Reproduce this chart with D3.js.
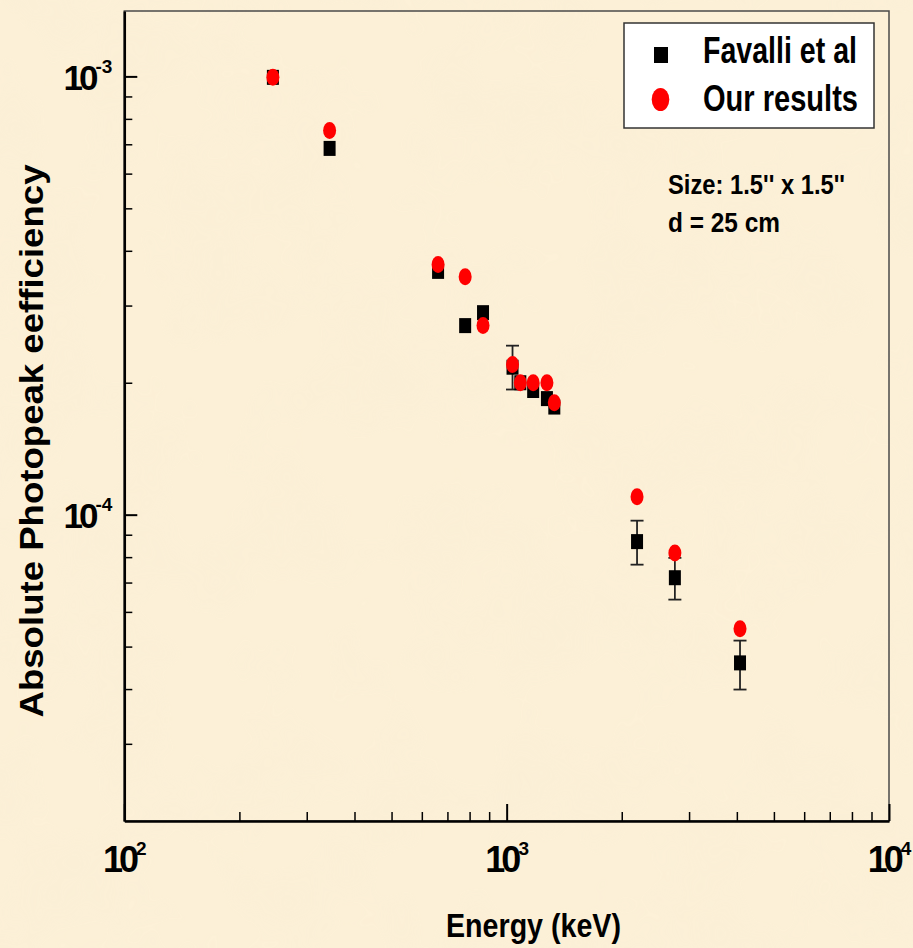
<!DOCTYPE html>
<html>
<head>
<meta charset="utf-8">
<script src="https://cdn.jsdelivr.net/npm/d3@7"></script>
<style>
  body { margin: 0; background: #fbeed3; }
  text { font-family: "Liberation Sans", Arial, sans-serif; font-weight: bold; fill: #000; }
</style>
</head>
<body>
<div id="chart"></div>
<script>
// data (energy in keV, efficiency absolute)
var energy   = [244.7, 344.3, 661.7, 778.9, 867.4, 1036, 1085.8, 1173.2, 1274.5, 1332.5, 2193, 2754, 4077];
var favalli  = [9.95e-4, 6.85e-4, 3.59e-4, 2.70e-4, 2.89e-4, 2.17e-4, 2.00e-4, 1.92e-4, 1.84e-4, 1.76e-4, 8.68e-5, 7.18e-5, 4.59e-5];
var favalliLo = [null, null, null, null, null, 1.93e-4, null, null, null, null, 7.69e-5, 6.40e-5, 3.99e-5];
var favalliHi = [null, null, null, null, null, 2.43e-4, null, null, null, null, 9.69e-5, 7.97e-5, 5.16e-5];
var ours     = [9.95e-4, 7.53e-4, 3.72e-4, 3.49e-4, 2.70e-4, 2.20e-4, 2.00e-4, 2.00e-4, 2.00e-4, 1.80e-4, 1.099e-4, 8.18e-5, 5.49e-5];

var xMajor = [100, 1000, 10000];
var xMinor = [200, 300, 400, 500, 600, 700, 800, 900, 2000, 3000, 4000, 5000, 6000, 7000, 8000, 9000];
var yMajor = [1e-4, 1e-3];
var yMinor = [3e-5, 4e-5, 5e-5, 6e-5, 7e-5, 8e-5, 9e-5, 2e-4, 3e-4, 4e-4, 5e-4, 6e-4, 7e-4, 8e-4, 9e-4];

var legendNames = ["Favalli et al", "Our results"];

// page & plot box
var W = 913, H = 948;
var plot = {left: 124.3, right: 889, top: 11, bottom: 821};

var svg = d3.select("#chart")
    .append("svg")
    .attr("width", W)
    .attr("height", H);

// parchment-like background
var defs = svg.append("defs");
var f = defs.append("filter").attr("id", "paper")
    .attr("x", 0).attr("y", 0).attr("width", "100%").attr("height", "100%");
f.append("feTurbulence").attr("type", "fractalNoise")
    .attr("baseFrequency", "0.012").attr("numOctaves", 3).attr("seed", 7);
f.append("feColorMatrix").attr("type", "matrix")
    .attr("values", "0 0 0 0 0.93  0 0 0 0 0.84  0 0 0 0 0.66  0 0 0 0.9 -0.38");
svg.append("rect").attr("width", W).attr("height", H).attr("fill", "#fcf0d7");
svg.append("rect").attr("width", W).attr("height", H).attr("filter", "url(#paper)").attr("opacity", 0.55);

var x = d3.scaleLog().domain([100, 10000]).range([plot.left, plot.right]);
var y = d3.scaleLog().domain([2e-5, 1.41e-3]).range([plot.bottom, plot.top]);

// thin frame (top / right)
svg.append("rect")
    .attr("x", plot.left).attr("y", plot.top)
    .attr("width", plot.right - plot.left).attr("height", plot.bottom - plot.top)
    .attr("fill", "none").attr("stroke", "#4a4a4a").attr("stroke-width", 1.5);

// bottom axis: minor ticks then major ticks, all pointing inward
svg.append("g")
    .attr("transform", "translate(0," + plot.bottom + ")")
    .call(d3.axisBottom(x).tickValues(xMinor).tickSize(-9).tickSizeOuter(0).tickFormat(""))
    .call(function(g) { g.select(".domain").remove(); })
    .selectAll("line").attr("stroke", "#000").attr("stroke-width", 1.5);

var xMaj = svg.append("g")
    .attr("transform", "translate(0," + plot.bottom + ")")
    .call(d3.axisBottom(x).tickValues(xMajor).tickSize(-17).tickSizeOuter(0).tickFormat(""));
xMaj.select(".domain").attr("stroke", "#000").attr("stroke-width", 2.5);
xMaj.selectAll("line").attr("stroke", "#000").attr("stroke-width", 2);
xMaj.selectAll(".tick text").remove();
xMaj.selectAll(".tick").append("text")
    .attr("y", 51)
    .attr("text-anchor", "middle")
    .style("font-size", "36px")
    .each(function(d) {
        var t = d3.select(this);
        t.append("tspan").text("10").style("letter-spacing", "-4px");
        t.append("tspan").text(Math.round(Math.log10(d)))
            .attr("dy", -17).attr("dx", 1).style("font-size", "19px");
    });

// left axis
svg.append("g")
    .attr("transform", "translate(" + plot.left + ",0)")
    .call(d3.axisLeft(y).tickValues(yMinor).tickSize(-8).tickSizeOuter(0).tickFormat(""))
    .call(function(g) { g.select(".domain").remove(); })
    .selectAll("line").attr("stroke", "#000").attr("stroke-width", 1.5);

var yMaj = svg.append("g")
    .attr("transform", "translate(" + plot.left + ",0)")
    .call(d3.axisLeft(y).tickValues(yMajor).tickSize(-13).tickSizeOuter(0).tickFormat(""));
yMaj.select(".domain").attr("stroke", "#000").attr("stroke-width", 2.5);
yMaj.selectAll("line").attr("stroke", "#000").attr("stroke-width", 2);
yMaj.selectAll(".tick text").remove();
yMaj.selectAll(".tick").append("text")
    .attr("x", -12)
    .attr("y", 13)
    .attr("text-anchor", "end")
    .style("font-size", "35px")
    .each(function(d) {
        var t = d3.select(this);
        t.append("tspan").text("10").style("letter-spacing", "-4px");
        t.append("tspan").text(String(Math.round(Math.log10(d))))
            .attr("dy", -17).attr("dx", 1).style("font-size", "19px");
    });

// axis titles
svg.append("text")
    .attr("x", 446).attr("y", 937)
    .attr("textLength", 175).attr("lengthAdjust", "spacingAndGlyphs")
    .style("font-size", "33px")
    .text("Energy (keV)");

svg.append("text")
    .attr("transform", "translate(43,441) rotate(-90)")
    .attr("text-anchor", "middle")
    .attr("textLength", 553).attr("lengthAdjust", "spacingAndGlyphs")
    .style("font-size", "34px")
    .text("Absolute Photopeak eefficiency");

// error bars for Favalli et al
var errIdx = d3.range(energy.length).filter(function(i) { return favalliLo[i] != null; });
var eb = svg.append("g").attr("stroke", "#222").attr("stroke-width", 1.8);
errIdx.forEach(function(i) {
    var cx = x(energy[i]);
    eb.append("line").attr("x1", cx).attr("x2", cx).attr("y1", y(favalliHi[i])).attr("y2", y(favalliLo[i]));
    eb.append("line").attr("x1", cx - 6.5).attr("x2", cx + 6.5).attr("y1", y(favalliHi[i])).attr("y2", y(favalliHi[i]));
    eb.append("line").attr("x1", cx - 6.5).attr("x2", cx + 6.5).attr("y1", y(favalliLo[i])).attr("y2", y(favalliLo[i]));
});

// Favalli et al: black squares
svg.append("g").selectAll("rect")
    .data(energy)
    .enter().append("rect")
    .attr("x", function(d) { return x(d) - 6; })
    .attr("y", function(d, i) { return y(favalli[i]) - 7.5; })
    .attr("width", 12)
    .attr("height", 15)
    .attr("fill", "#000");

// our results: red ellipses
svg.append("g").selectAll("ellipse")
    .data(energy)
    .enter().append("ellipse")
    .attr("cx", function(d) { return x(d); })
    .attr("cy", function(d, i) { return y(ours[i]); })
    .attr("rx", 6.5)
    .attr("ry", 8.5)
    .attr("fill", "#ff0000");

// legend
var lg = svg.append("g");
lg.append("rect")
    .attr("x", 624).attr("y", 23).attr("width", 250).attr("height", 105)
    .attr("fill", "#fff").attr("stroke", "#333").attr("stroke-width", 1.5);
lg.append("rect").attr("x", 654).attr("y", 47).attr("width", 14).attr("height", 16).attr("fill", "#000");
lg.append("ellipse").attr("cx", 660.5).attr("cy", 99.5).attr("rx", 8.8).attr("ry", 11.5).attr("fill", "#ff0000");
lg.append("text").attr("x", 703).attr("y", 63)
    .attr("textLength", 154).attr("lengthAdjust", "spacingAndGlyphs")
    .style("font-size", "36px").text(legendNames[0]);
lg.append("text").attr("x", 703).attr("y", 111)
    .attr("textLength", 155).attr("lengthAdjust", "spacingAndGlyphs")
    .style("font-size", "36px").text(legendNames[1]);

// annotation
svg.append("text").attr("x", 668).attr("y", 194)
    .attr("textLength", 177).attr("lengthAdjust", "spacingAndGlyphs")
    .style("font-size", "27px").text("Size: 1.5'' x 1.5''");
svg.append("text").attr("x", 668).attr("y", 232)
    .attr("textLength", 112).attr("lengthAdjust", "spacingAndGlyphs")
    .style("font-size", "27px").text("d = 25 cm");
</script>
</body>
</html>
